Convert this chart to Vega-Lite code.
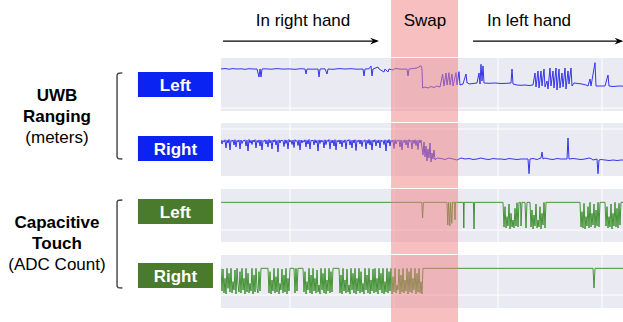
{
  "$schema": "https://vega.github.io/schema/vega-lite/v6.json",
  "padding": 0,
  "background": "white",
  "spacing": 0,
  "config": {"view": {"stroke": null}, "font": "Liberation Sans", "concat": {"spacing": 0}},
  "resolve": {"scale": {"x": "independent", "y": "independent"}},
  "datasets": {
    "uwbL": [
      {"t":0,"v":3.9},{"t":1,"v":3.95},{"t":2,"v":3.88},{"t":3,"v":3.94},{"t":4,"v":3.9},{"t":5,"v":3.92},{"t":6,"v":3.87},{"t":7,"v":3.93},{"t":8,"v":3.9},{"t":9,"v":3.9},{"t":9.5,"v":3.1},{"t":9.75,"v":3.9},{"t":10,"v":3.1},{"t":10.25,"v":3.9},{"t":11,"v":3.92},{"t":12.5,"v":3.88},{"t":14,"v":3.94},{"t":15.5,"v":3.89},{"t":17,"v":3.91},{"t":18.5,"v":3.87},{"t":20,"v":3.93},{"t":21,"v":3.9},{"t":21.25,"v":3.4},{"t":21.5,"v":3.9},{"t":23,"v":3.88},{"t":24.25,"v":3.9},{"t":24.5,"v":3.1},{"t":24.75,"v":3.9},{"t":26,"v":3.92},{"t":26.5,"v":3.4},{"t":26.75,"v":3.9},{"t":28,"v":3.87},{"t":29.5,"v":3.94},{"t":31,"v":3.9},{"t":32.5,"v":3.93},{"t":34,"v":3.88},{"t":35.5,"v":3.9},{"t":35.75,"v":3.2},{"t":36,"v":3.9},{"t":37,"v":3.92},{"t":37.5,"v":4.2},{"t":37.75,"v":3.2},{"t":38,"v":3.9},{"t":39.25,"v":4.1},{"t":39.5,"v":3.9},{"t":40.75,"v":3.6},{"t":41,"v":3.9},{"t":41.75,"v":3.6},{"t":42,"v":3.9},{"t":43,"v":3.8},{"t":43.5,"v":3.95},{"t":45,"v":3.88},{"t":46.5,"v":3.9},{"t":46.75,"v":3.2},{"t":47,"v":3.9},{"t":48,"v":3.95},{"t":49,"v":4.0},{"t":50,"v":4.23},{"t":50.25,"v":3.9},{"t":50.4,"v":2.0},{"t":51,"v":2.1},{"t":51.75,"v":2.0},{"t":52.5,"v":2.15},{"t":53.25,"v":2.05},{"t":54,"v":2.2},{"t":54.75,"v":2.1},{"t":55.4,"v":3.4},{"t":55.75,"v":2.2},{"t":56.25,"v":3.5},{"t":56.5,"v":2.3},{"t":57,"v":3.53},{"t":57.25,"v":2.3},{"t":57.75,"v":3.4},{"t":58,"v":2.2},{"t":58.75,"v":3.53},{"t":59,"v":2.3},{"t":59.5,"v":3.63},{"t":59.75,"v":2.3},{"t":60.5,"v":2.4},{"t":61.25,"v":3.4},{"t":61.5,"v":2.5},{"t":61.75,"v":2.53},{"t":62,"v":2.4},{"t":63,"v":2.45},{"t":64,"v":2.5},{"t":64.5,"v":3.5},{"t":64.75,"v":2.4},{"t":65,"v":4.37},{"t":65.25,"v":2.7},{"t":65.5,"v":4.2},{"t":65.75,"v":2.5},{"t":67,"v":2.47},{"t":68.5,"v":2.5},{"t":70,"v":2.45},{"t":71.5,"v":2.47},{"t":72.5,"v":2.5},{"t":72.75,"v":3.9},{"t":73,"v":2.4},{"t":74,"v":2.3},{"t":75,"v":2.27},{"t":76,"v":2.3},{"t":77,"v":2.25},{"t":78,"v":2.3},{"t":78.5,"v":3.5},{"t":78.75,"v":2.1},{"t":79.25,"v":3.7},{"t":79.5,"v":2.0},{"t":80,"v":3.7},{"t":80.25,"v":2.2},{"t":80.75,"v":3.9},{"t":81,"v":2.1},{"t":81.5,"v":2.7},{"t":81.75,"v":1.9},{"t":82.25,"v":4.0},{"t":82.5,"v":2.2},{"t":83,"v":3.7},{"t":83.25,"v":2.0},{"t":83.75,"v":4.0},{"t":84,"v":1.8},{"t":84.5,"v":3.9},{"t":84.75,"v":2.0},{"t":85.25,"v":3.5},{"t":85.5,"v":2.1},{"t":86,"v":4.0},{"t":86.25,"v":1.9},{"t":86.75,"v":3.7},{"t":87,"v":2.4},{"t":87.5,"v":4.0},{"t":87.75,"v":2.2},{"t":88.25,"v":2.5},{"t":89.25,"v":2.45},{"t":90.25,"v":2.4},{"t":91.25,"v":2.3},{"t":91.75,"v":2.2},{"t":92.25,"v":2.9},{"t":92.5,"v":2.2},{"t":93.5,"v":4.53},{"t":93.75,"v":2.2},{"t":95,"v":2.2},{"t":96,"v":2.2},{"t":96.75,"v":3.3},{"t":97,"v":2.2},{"t":98,"v":2.15},{"t":99.5,"v":2.2},{"t":100.75,"v":2.18}
    ],
    "uwbR": [
      {"t":0,"v":3.9},{"t":0.25,"v":3.5},{"t":0.5,"v":3.85},{"t":0.75,"v":3.7},{"t":1,"v":3.92},{"t":1.25,"v":3.1},{"t":1.5,"v":3.88},{"t":1.75,"v":3.6},{"t":2,"v":3.95},{"t":2.25,"v":2.9},{"t":2.5,"v":3.87},{"t":2.75,"v":3.75},{"t":3,"v":3.9},{"t":3.25,"v":3.4},{"t":3.5,"v":3.93},{"t":3.75,"v":3.2},{"t":4,"v":3.86},{"t":4.25,"v":3.7},{"t":4.5,"v":3.91},{"t":4.75,"v":3.0},
      {"t":5,"v":3.9},{"t":5.25,"v":3.55},{"t":5.5,"v":3.85},{"t":5.75,"v":3.8},{"t":6,"v":3.92},{"t":6.25,"v":3.3},{"t":6.5,"v":3.88},{"t":6.75,"v":2.8},{"t":7,"v":3.95},{"t":7.25,"v":3.6},{"t":7.5,"v":3.87},{"t":7.75,"v":3.45},{"t":8,"v":3.9},{"t":8.25,"v":3.7},{"t":8.5,"v":3.93},{"t":8.75,"v":3.1},{"t":9,"v":3.86},{"t":9.25,"v":3.65},{"t":9.5,"v":3.91},{"t":9.75,"v":3.3},
      {"t":10,"v":3.9},{"t":10.25,"v":2.9},{"t":10.5,"v":3.85},{"t":10.75,"v":3.75},{"t":11,"v":3.92},{"t":11.25,"v":3.5},{"t":11.5,"v":3.88},{"t":11.75,"v":3.2},{"t":12,"v":3.95},{"t":12.25,"v":3.6},{"t":12.5,"v":3.87},{"t":12.75,"v":3.0},{"t":13,"v":3.9},{"t":13.25,"v":3.7},{"t":13.5,"v":3.93},{"t":13.75,"v":3.4},{"t":14,"v":3.86},{"t":14.25,"v":2.7},{"t":14.5,"v":3.91},{"t":14.75,"v":3.6},
      {"t":15,"v":3.9},{"t":15.25,"v":3.8},{"t":15.5,"v":3.85},{"t":15.75,"v":3.25},{"t":16,"v":3.92},{"t":16.25,"v":3.55},{"t":16.5,"v":3.88},{"t":16.75,"v":3.0},{"t":17,"v":3.95},{"t":17.25,"v":3.7},{"t":17.5,"v":3.87},{"t":17.75,"v":3.45},{"t":18,"v":3.9},{"t":18.25,"v":3.15},{"t":18.5,"v":3.93},{"t":18.75,"v":3.75},{"t":19,"v":3.86},{"t":19.25,"v":3.35},{"t":19.5,"v":3.91},{"t":19.75,"v":2.9},
      {"t":20,"v":3.9},{"t":20.25,"v":3.6},{"t":20.5,"v":3.85},{"t":20.75,"v":3.7},{"t":21,"v":3.92},{"t":21.25,"v":3.2},{"t":21.5,"v":3.88},{"t":21.75,"v":3.5},{"t":22,"v":3.95},{"t":22.25,"v":3.0},{"t":22.5,"v":3.87},{"t":22.75,"v":3.8},{"t":23,"v":3.9},{"t":23.25,"v":3.4},{"t":23.5,"v":3.93},{"t":23.75,"v":3.6},{"t":24,"v":3.86},{"t":24.25,"v":2.8},{"t":24.5,"v":3.91},{"t":24.75,"v":3.55},
      {"t":25,"v":3.9},{"t":25.25,"v":3.7},{"t":25.5,"v":3.85},{"t":25.75,"v":3.1},{"t":26,"v":3.92},{"t":26.25,"v":3.45},{"t":26.5,"v":3.88},{"t":26.75,"v":3.75},{"t":27,"v":3.95},{"t":27.25,"v":3.0},{"t":27.5,"v":3.87},{"t":27.75,"v":3.6},{"t":28,"v":3.9},{"t":28.25,"v":3.3},{"t":28.5,"v":3.93},{"t":28.75,"v":2.9},{"t":29,"v":3.86},{"t":29.25,"v":3.7},{"t":29.5,"v":3.91},{"t":29.75,"v":3.5},
      {"t":30,"v":3.9},{"t":30.25,"v":3.2},{"t":30.5,"v":3.85},{"t":30.75,"v":3.65},{"t":31,"v":3.92},{"t":31.25,"v":3.0},{"t":31.5,"v":3.88},{"t":31.75,"v":3.8},{"t":32,"v":3.95},{"t":32.25,"v":3.4},{"t":32.5,"v":3.87},{"t":32.75,"v":3.1},{"t":33,"v":3.9},{"t":33.25,"v":3.6},{"t":33.5,"v":3.93},{"t":33.75,"v":2.85},{"t":34,"v":3.86},{"t":34.25,"v":3.7},{"t":34.5,"v":3.91},{"t":34.75,"v":3.5},
      {"t":35,"v":3.9},{"t":35.25,"v":3.25},{"t":35.5,"v":3.85},{"t":35.75,"v":3.75},{"t":36,"v":3.92},{"t":36.25,"v":3.0},{"t":36.5,"v":3.88},{"t":36.75,"v":3.55},{"t":37,"v":3.95},{"t":37.25,"v":3.4},{"t":37.5,"v":3.87},{"t":37.75,"v":2.9},{"t":38,"v":3.9},{"t":38.25,"v":3.7},{"t":38.5,"v":3.93},{"t":38.75,"v":3.3},{"t":39,"v":3.86},{"t":39.25,"v":3.6},{"t":39.5,"v":3.91},{"t":39.75,"v":3.1},
      {"t":40,"v":3.9},{"t":40.25,"v":3.75},{"t":40.5,"v":3.85},{"t":40.75,"v":3.45},{"t":41,"v":3.92},{"t":41.25,"v":2.8},{"t":41.5,"v":3.88},{"t":41.75,"v":3.6},{"t":42,"v":3.95},{"t":42.25,"v":3.3},{"t":42.5,"v":3.87},{"t":42.75,"v":3.7},{"t":43,"v":3.9},{"t":43.25,"v":3.05},{"t":43.5,"v":3.93},{"t":43.75,"v":3.5},{"t":44,"v":3.86},{"t":44.25,"v":3.8},{"t":44.5,"v":3.91},{"t":44.75,"v":3.2},
      {"t":45,"v":3.9},{"t":45.25,"v":2.9},{"t":45.5,"v":3.85},{"t":45.75,"v":3.65},{"t":46,"v":3.92},{"t":46.25,"v":3.4},{"t":46.5,"v":3.88},{"t":46.75,"v":3.1},{"t":47,"v":3.95},{"t":47.25,"v":3.7},{"t":47.5,"v":3.87},{"t":47.75,"v":3.0},{"t":48,"v":3.9},{"t":48.25,"v":3.55},{"t":48.5,"v":3.93},{"t":48.75,"v":3.35},{"t":49,"v":3.86},{"t":49.25,"v":2.95},{"t":49.5,"v":3.91},{"t":49.75,"v":3.6},{"t":50,"v":3.9},
      {"t":50.5,"v":2.4},{"t":50.75,"v":3.7},{"t":51,"v":2.2},{"t":51.25,"v":3.3},{"t":51.5,"v":1.8},{"t":51.75,"v":3.0},{"t":52,"v":2.1},{"t":52.25,"v":3.6},{"t":52.5,"v":1.7},{"t":52.75,"v":2.6},{"t":53,"v":2.0},{"t":53.25,"v":2.9},{"t":53.5,"v":1.9},{"t":54,"v":2.1},{"t":55,"v":2.05},{"t":56,"v":1.95},{"t":57,"v":2.1},{"t":58,"v":2.0},{"t":59,"v":1.9},{"t":60,"v":2.1},{"t":61,"v":2.0},{"t":62,"v":2.05},{"t":63,"v":1.95},{"t":64,"v":2.0},{"t":65,"v":2.1},{"t":66,"v":2.0},{"t":67,"v":1.95},{"t":68,"v":2.05},{"t":69,"v":2.0},{"t":70,"v":2.0},{"t":71,"v":1.95},{"t":72,"v":2.05},{"t":73,"v":2.0},{"t":74,"v":1.95},{"t":75,"v":2.0},{"t":76,"v":2.0},{"t":76.75,"v":2.0},{"t":77,"v":0.53},{"t":77.25,"v":2.0},{"t":78,"v":2.05},{"t":79,"v":1.95},{"t":80,"v":2.1},{"t":80.25,"v":2.7},{"t":80.5,"v":2.0},{"t":81,"v":2.1},{"t":82,"v":2.0},{"t":83,"v":1.95},{"t":84,"v":2.05},{"t":85,"v":2.0},{"t":86,"v":2.0},{"t":86.5,"v":2.0},{"t":86.75,"v":4.1},{"t":87,"v":2.0},{"t":88,"v":2.05},{"t":89,"v":2.0},{"t":90,"v":1.95},{"t":91,"v":2.0},{"t":92,"v":2.1},{"t":92.5,"v":2.05},{"t":93,"v":1.9},{"t":94,"v":2.0},{"t":94.25,"v":0.53},{"t":94.5,"v":1.9},{"t":95,"v":1.95},{"t":96,"v":1.9},{"t":97,"v":1.85},{"t":98,"v":1.9},{"t":99,"v":1.85},{"t":100,"v":1.9},{"t":100.75,"v":1.88}
    ],
    "capL": [
      {"t":0,"v":830},{"t":50.2,"v":830},{"t":50.4,"v":360},{"t":50.6,"v":830},{"t":56.5,"v":830},{"t":56.7,"v":150},{"t":56.9,"v":830},{"t":57.2,"v":120},{"t":57.4,"v":830},{"t":57.7,"v":200},{"t":57.9,"v":830},{"t":58.4,"v":830},{"t":58.5,"v":310},{"t":58.6,"v":830},{"t":60.6,"v":830},{"t":60.7,"v":60},{"t":60.8,"v":830},{"t":63.1,"v":830},{"t":63.25,"v":30},{"t":63.4,"v":830},{"t":70.5,"v":830},{"t":70.75,"v":90},{"t":71,"v":700},{"t":71.25,"v":60},{"t":71.5,"v":400},{"t":71.75,"v":120},{"t":72,"v":780},{"t":72.25,"v":30},{"t":72.5,"v":500},{"t":72.75,"v":90},{"t":73,"v":300},{"t":73.25,"v":60},{"t":73.5,"v":650},{"t":73.75,"v":120},{"t":74,"v":820},{"t":74.25,"v":90},{"t":74.5,"v":830},{"t":74.9,"v":830},{"t":75,"v":120},{"t":75.25,"v":830},{"t":76,"v":830},{"t":76.25,"v":60},{"t":76.5,"v":830},{"t":77.25,"v":830},{"t":77.5,"v":90},{"t":77.75,"v":600},{"t":78,"v":30},{"t":78.25,"v":450},{"t":78.5,"v":120},{"t":78.75,"v":780},{"t":79,"v":60},{"t":79.25,"v":300},{"t":79.5,"v":90},{"t":79.75,"v":700},{"t":80,"v":30},{"t":80.25,"v":500},{"t":80.5,"v":150},{"t":80.75,"v":830},{"t":81,"v":60},{"t":81.25,"v":830},{"t":89.75,"v":830},{"t":90,"v":90},{"t":90.25,"v":550},{"t":90.5,"v":60},{"t":90.75,"v":800},{"t":91,"v":30},{"t":91.25,"v":400},{"t":91.5,"v":120},{"t":91.75,"v":700},{"t":92,"v":60},{"t":92.25,"v":830},{"t":92.5,"v":90},{"t":92.75,"v":500},{"t":93,"v":150},{"t":93.25,"v":780},{"t":93.5,"v":60},{"t":93.75,"v":600},{"t":94,"v":120},{"t":94.25,"v":830},{"t":94.5,"v":90},{"t":94.75,"v":830},{"t":96,"v":830},{"t":96.25,"v":120},{"t":96.5,"v":700},{"t":96.75,"v":60},{"t":97,"v":400},{"t":97.25,"v":90},{"t":97.5,"v":780},{"t":97.75,"v":30},{"t":98,"v":500},{"t":98.25,"v":120},{"t":98.5,"v":830},{"t":98.75,"v":90},{"t":99,"v":650},{"t":99.25,"v":60},{"t":99.5,"v":800},{"t":99.75,"v":150},{"t":100,"v":830},{"t":100.75,"v":830}
    ],
    "capR": [
      {"t":0,"v":800},{"t":0.25,"v":120},{"t":0.5,"v":780},{"t":0.75,"v":60},{"t":1,"v":500},{"t":1.25,"v":30},{"t":1.5,"v":800},{"t":1.75,"v":200},{"t":2,"v":650},{"t":2.25,"v":90},{"t":2.5,"v":800},{"t":2.75,"v":60},{"t":3,"v":400},{"t":3.25,"v":150},{"t":3.5,"v":750},{"t":3.75,"v":30},{"t":4,"v":800},{"t":4.25,"v":300},{"t":4.5,"v":90},{"t":4.75,"v":700},{"t":5,"v":60},{"t":5.25,"v":800},{"t":5.5,"v":150},{"t":5.75,"v":500},{"t":6,"v":30},{"t":6.25,"v":800},{"t":6.5,"v":90},{"t":6.75,"v":650},{"t":7,"v":60},{"t":7.25,"v":350},{"t":7.5,"v":120},{"t":7.75,"v":800},{"t":8,"v":30},{"t":8.25,"v":600},{"t":8.5,"v":90},{"t":8.75,"v":800},{"t":9,"v":200},{"t":9.25,"v":60},{"t":9.5,"v":700},{"t":9.75,"v":120},{"t":10,"v":800},{"t":11.75,"v":800},{"t":12,"v":60},{"t":12.25,"v":700},{"t":12.5,"v":30},{"t":12.75,"v":450},{"t":13,"v":120},{"t":13.25,"v":800},{"t":13.5,"v":60},{"t":13.75,"v":550},{"t":14,"v":90},{"t":14.25,"v":800},{"t":14.5,"v":30},{"t":14.75,"v":350},{"t":15,"v":150},{"t":15.25,"v":780},{"t":15.5,"v":60},{"t":15.75,"v":600},{"t":16,"v":90},{"t":16.25,"v":800},{"t":16.5,"v":30},{"t":16.75,"v":500},{"t":17,"v":120},{"t":17.25,"v":800},{"t":18.25,"v":800},{"t":18.5,"v":60},{"t":18.75,"v":800},{"t":19,"v":120},{"t":19.25,"v":800},{"t":20.5,"v":800},{"t":20.75,"v":90},{"t":21,"v":700},{"t":21.25,"v":30},{"t":21.5,"v":400},{"t":21.75,"v":150},{"t":22,"v":800},{"t":22.25,"v":60},{"t":22.5,"v":600},{"t":22.75,"v":30},{"t":23,"v":800},{"t":23.25,"v":120},{"t":23.5,"v":500},{"t":23.75,"v":60},{"t":24,"v":750},{"t":24.25,"v":90},{"t":24.5,"v":300},{"t":24.75,"v":30},{"t":25,"v":800},{"t":25.25,"v":150},{"t":25.5,"v":650},{"t":25.75,"v":60},{"t":26,"v":800},{"t":26.25,"v":30},{"t":26.5,"v":450},{"t":26.75,"v":120},{"t":27,"v":800},{"t":27.25,"v":60},{"t":27.5,"v":700},{"t":27.75,"v":90},{"t":28,"v":800},{"t":29.5,"v":800},{"t":29.75,"v":60},{"t":30,"v":600},{"t":30.25,"v":30},{"t":30.5,"v":800},{"t":30.75,"v":120},{"t":31,"v":450},{"t":31.25,"v":60},{"t":31.5,"v":780},{"t":31.75,"v":90},{"t":32,"v":300},{"t":32.25,"v":30},{"t":32.5,"v":800},{"t":32.75,"v":150},{"t":33,"v":650},{"t":33.25,"v":60},{"t":33.5,"v":800},{"t":33.75,"v":30},{"t":34,"v":500},{"t":34.25,"v":120},{"t":34.5,"v":800},{"t":34.75,"v":60},{"t":35,"v":700},{"t":35.25,"v":90},{"t":35.5,"v":350},{"t":35.75,"v":30},{"t":36,"v":800},{"t":36.25,"v":150},{"t":36.5,"v":600},{"t":36.75,"v":60},{"t":37,"v":800},{"t":37.25,"v":30},{"t":37.5,"v":450},{"t":37.75,"v":120},{"t":38,"v":780},{"t":38.25,"v":60},{"t":38.5,"v":800},{"t":38.75,"v":90},{"t":39,"v":500},{"t":39.25,"v":30},{"t":39.5,"v":800},{"t":39.75,"v":150},{"t":40,"v":650},{"t":40.25,"v":60},{"t":40.5,"v":800},{"t":40.75,"v":30},{"t":41,"v":400},{"t":41.25,"v":90},{"t":41.5,"v":800},{"t":41.75,"v":60},{"t":42,"v":700},{"t":42.25,"v":120},{"t":42.5,"v":800},{"t":42.75,"v":30},{"t":43,"v":550},{"t":43.25,"v":90},{"t":43.5,"v":800},{"t":43.75,"v":60},{"t":44,"v":300},{"t":44.25,"v":150},{"t":44.5,"v":780},{"t":44.75,"v":30},{"t":45,"v":600},{"t":45.25,"v":90},{"t":45.5,"v":800},{"t":45.75,"v":60},{"t":46,"v":450},{"t":46.25,"v":120},{"t":46.5,"v":800},{"t":46.75,"v":30},{"t":47,"v":700},{"t":47.25,"v":90},{"t":47.5,"v":800},{"t":47.75,"v":60},{"t":48,"v":500},{"t":48.25,"v":150},{"t":48.5,"v":800},{"t":48.75,"v":30},{"t":49,"v":650},{"t":49.25,"v":90},{"t":49.5,"v":800},{"t":49.75,"v":60},{"t":50,"v":400},{"t":50.25,"v":30},{"t":50.5,"v":800},{"t":93,"v":800},{"t":93.25,"v":210},{"t":93.5,"v":800},{"t":100.75,"v":800}
    ],
    "swap": [{"start": 42.5, "end": 59.25}],
    "vgrid": [{"t": 17.25}, {"t": 43.25}, {"t": 69.25}, {"t": 95.25}],
    "panels": [
      {"panel": "uwbL", "lo": -0.3, "hi": 5.0, "grid": 0},
      {"panel": "uwbR", "lo": 0.3, "hi": 5.6, "grid": 5},
      {"panel": "capL", "lo": -360, "hi": 1230, "grid": 0},
      {"panel": "capR", "lo": -390, "hi": 1200, "grid": 0}
    ],
    "phases": [
      {"label": "In right hand", "t": 20.5, "level": 0.54},
      {"label": "Swap", "t": 51, "level": 0.54},
      {"label": "In left hand", "t": 77, "level": 0.54}
    ],
    "arrows": [
      {"t": 0.5, "t2": 39.0, "tip": 39.5, "level": 0.28},
      {"t": 63, "t2": 100.1, "tip": 100.6, "level": 0.28}
    ],
    "boxes": [
      {"sensor": "UWB", "side": "Left", "left": 0.627, "right": 0.968, "top": 0.805, "bottom": 1.195, "center": 0.7975, "base": 1.095},
      {"sensor": "UWB", "side": "Right", "left": 0.627, "right": 0.968, "top": 1.805, "bottom": 2.195, "center": 0.7975, "base": 2.095},
      {"sensor": "Capacitive", "side": "Left", "left": 0.627, "right": 0.968, "top": 2.79, "bottom": 3.18, "center": 0.7975, "base": 3.08},
      {"sensor": "Capacitive", "side": "Right", "left": 0.627, "right": 0.968, "top": 3.79, "bottom": 4.18, "center": 0.7975, "base": 4.08}
    ],
    "brackets": [
      {"group": "UWB", "order": 1, "col": 0.556, "track": 0.82},
      {"group": "UWB", "order": 2, "col": 0.537, "track": 0.825},
      {"group": "UWB", "order": 3, "col": 0.532, "track": 0.85},
      {"group": "UWB", "order": 4, "col": 0.532, "track": 2.135},
      {"group": "UWB", "order": 5, "col": 0.537, "track": 2.16},
      {"group": "UWB", "order": 6, "col": 0.556, "track": 2.164},
      {"group": "Cap", "order": 1, "col": 0.556, "track": 2.805},
      {"group": "Cap", "order": 2, "col": 0.537, "track": 2.81},
      {"group": "Cap", "order": 3, "col": 0.532, "track": 2.835},
      {"group": "Cap", "order": 4, "col": 0.532, "track": 4.15},
      {"group": "Cap", "order": 5, "col": 0.537, "track": 4.175},
      {"group": "Cap", "order": 6, "col": 0.556, "track": 4.18}
    ],
    "groups": [
      {"text": "UWB", "col": 0.259, "track": 1.258, "style": "bold"},
      {"text": "Ranging", "col": 0.259, "track": 1.586, "style": "bold"},
      {"text": "(meters)", "col": 0.259, "track": 1.914, "style": "normal"},
      {"text": "Capacitive", "col": 0.259, "track": 3.242, "style": "bold"},
      {"text": "Touch", "col": 0.259, "track": 3.570, "style": "bold"},
      {"text": "(ADC Count)", "col": 0.259, "track": 3.898, "style": "normal"}
    ]
  },
  "hconcat": [
    {
      "width": 220,
      "height": 322,
      "layer": [
        {
          "data": {"name": "brackets"},
          "mark": {"type": "line", "color": "#333333", "strokeWidth": 1.3},
          "encoding": {
            "x": {"field": "col", "type": "quantitative", "scale": {"domain": [0, 1], "nice": false, "zero": false}, "axis": null},
            "y": {"field": "track", "type": "quantitative", "scale": {"domain": [-0.32, 4.711], "nice": false, "zero": false, "reverse": true}, "axis": null},
            "detail": {"field": "group"},
            "order": {"field": "order", "type": "quantitative"}
          }
        },
        {
          "data": {"name": "boxes"},
          "mark": {"type": "rect"},
          "encoding": {
            "x": {"field": "left", "type": "quantitative", "scale": {"domain": [0, 1], "nice": false, "zero": false}, "axis": null},
            "x2": {"field": "right"},
            "y": {"field": "top", "type": "quantitative", "scale": {"domain": [-0.32, 4.711], "nice": false, "zero": false, "reverse": true}, "axis": null},
            "y2": {"field": "bottom"},
            "color": {"field": "sensor", "type": "nominal", "scale": {"domain": ["UWB", "Capacitive"], "range": ["#0a22f2", "#4a7a2b"]}, "legend": null}
          }
        },
        {
          "data": {"name": "boxes"},
          "mark": {"type": "text", "color": "white", "fontWeight": "bold", "fontSize": 17, "align": "center", "baseline": "alphabetic", "font": "Liberation Sans"},
          "encoding": {
            "x": {"field": "center", "type": "quantitative", "scale": {"domain": [0, 1], "nice": false, "zero": false}, "axis": null},
            "y": {"field": "base", "type": "quantitative", "scale": {"domain": [-0.32, 4.711], "nice": false, "zero": false, "reverse": true}, "axis": null},
            "text": {"field": "side"}
          }
        },
        {
          "data": {"name": "groups"},
          "transform": [{"filter": "datum.style === 'bold'"}],
          "mark": {"type": "text", "color": "black", "fontWeight": "bold", "fontSize": 17, "align": "center", "baseline": "alphabetic", "font": "Liberation Sans"},
          "encoding": {
            "x": {"field": "col", "type": "quantitative", "scale": {"domain": [0, 1], "nice": false, "zero": false}, "axis": null},
            "y": {"field": "track", "type": "quantitative", "scale": {"domain": [-0.32, 4.711], "nice": false, "zero": false, "reverse": true}, "axis": null},
            "text": {"field": "text"}
          }
        },
        {
          "data": {"name": "groups"},
          "transform": [{"filter": "datum.style === 'normal'"}],
          "mark": {"type": "text", "color": "black", "fontSize": 17, "align": "center", "baseline": "alphabetic", "font": "Liberation Sans"},
          "encoding": {
            "x": {"field": "col", "type": "quantitative", "scale": {"domain": [0, 1], "nice": false, "zero": false}, "axis": null},
            "y": {"field": "track", "type": "quantitative", "scale": {"domain": [-0.32, 4.711], "nice": false, "zero": false, "reverse": true}, "axis": null},
            "text": {"field": "text"}
          }
        }
      ]
    },
    {
      "vconcat": [
        {
          "width": 403,
          "height": 57,
          "layer": [
            {
              "data": {"name": "swap"},
              "mark": {"type": "rect", "color": "#f08080", "opacity": 0.5},
              "encoding": {
                "x": {"field": "start", "type": "quantitative", "scale": {"domain": [0, 100.75], "nice": false, "zero": false}, "axis": null},
                "x2": {"field": "end"}
              }
            },
            {
              "data": {"name": "arrows"},
              "mark": {"type": "rule", "color": "black", "strokeWidth": 1.3},
              "encoding": {
                "x": {"field": "t", "type": "quantitative", "scale": {"domain": [0, 100.75], "nice": false, "zero": false}, "axis": null},
                "x2": {"field": "t2"},
                "y": {"field": "level", "type": "quantitative", "scale": {"domain": [0, 1], "nice": false, "zero": false}, "axis": null}
              }
            },
            {
              "data": {"name": "arrows"},
              "mark": {"type": "point", "shape": "M0,0L-2.2,-0.85L-1.5,0L-2.2,0.85Z", "filled": true, "color": "black", "opacity": 1, "size": 64, "strokeWidth": 0},
              "encoding": {
                "x": {"field": "tip", "type": "quantitative", "scale": {"domain": [0, 100.75], "nice": false, "zero": false}, "axis": null},
                "y": {"field": "level", "type": "quantitative", "scale": {"domain": [0, 1], "nice": false, "zero": false}, "axis": null}
              }
            },
            {
              "data": {"name": "phases"},
              "mark": {"type": "text", "color": "black", "fontSize": 17, "align": "center", "baseline": "alphabetic", "font": "Liberation Sans"},
              "encoding": {
                "x": {"field": "t", "type": "quantitative", "scale": {"domain": [0, 100.75], "nice": false, "zero": false}, "axis": null},
                "y": {"field": "level", "type": "quantitative", "scale": {"domain": [0, 1], "nice": false, "zero": false}, "axis": null},
                "text": {"field": "label"}
              }
            }
          ]
        },
        {
          "width": 403,
          "height": 64,
          "layer": [
            {
              "data": {"name": "panels"},
              "transform": [{"filter": "datum.panel === 'uwbL'"}],
              "mark": {"type": "rect", "color": "#EAEAF2"},
              "encoding": {
                "y": {"field": "lo", "type": "quantitative", "scale": {"domain": [-1.4, 5.0], "nice": false, "zero": false}, "axis": null},
                "y2": {"field": "hi"}
              }
            },
            {
              "data": {"name": "panels"},
              "transform": [{"filter": "datum.panel === 'uwbL'"}],
              "mark": {"type": "rule", "color": "white", "strokeWidth": 1},
              "encoding": {
                "y": {"field": "grid", "type": "quantitative", "scale": {"domain": [-1.4, 5.0], "nice": false, "zero": false}, "axis": null}
              }
            },
            {
              "data": {"name": "vgrid"},
              "mark": {"type": "rule", "color": "white", "strokeWidth": 1},
              "encoding": {
                "x": {"field": "t", "type": "quantitative", "scale": {"domain": [0, 100.75], "nice": false, "zero": false}, "axis": null},
                "y": {"datum": -0.3, "type": "quantitative", "scale": {"domain": [-1.4, 5.0], "nice": false, "zero": false}, "axis": null},
                "y2": {"datum": 5.0}
              }
            },
            {
              "data": {"name": "uwbL"},
              "mark": {"type": "line", "color": "#3535e8", "strokeWidth": 1, "clip": true},
              "encoding": {
                "x": {"field": "t", "type": "quantitative", "scale": {"domain": [0, 100.75], "nice": false, "zero": false}, "axis": null},
                "y": {"field": "v", "type": "quantitative", "scale": {"domain": [-1.4, 5.0], "nice": false, "zero": false}, "axis": null}
              }
            },
            {
              "data": {"name": "swap"},
              "mark": {"type": "rect", "color": "#f08080", "opacity": 0.5},
              "encoding": {
                "x": {"field": "start", "type": "quantitative", "scale": {"domain": [0, 100.75], "nice": false, "zero": false}, "axis": null},
                "x2": {"field": "end"}
              }
            }
          ]
        },
        {
          "width": 403,
          "height": 65,
          "layer": [
            {
              "data": {"name": "panels"},
              "transform": [{"filter": "datum.panel === 'uwbR'"}],
              "mark": {"type": "rect", "color": "#EAEAF2"},
              "encoding": {
                "y": {"field": "lo", "type": "quantitative", "scale": {"domain": [-0.9, 5.6], "nice": false, "zero": false}, "axis": null},
                "y2": {"field": "hi"}
              }
            },
            {
              "data": {"name": "panels"},
              "transform": [{"filter": "datum.panel === 'uwbR'"}],
              "mark": {"type": "rule", "color": "white", "strokeWidth": 1},
              "encoding": {
                "y": {"field": "grid", "type": "quantitative", "scale": {"domain": [-0.9, 5.6], "nice": false, "zero": false}, "axis": null}
              }
            },
            {
              "data": {"name": "vgrid"},
              "mark": {"type": "rule", "color": "white", "strokeWidth": 1},
              "encoding": {
                "x": {"field": "t", "type": "quantitative", "scale": {"domain": [0, 100.75], "nice": false, "zero": false}, "axis": null},
                "y": {"datum": 0.3, "type": "quantitative", "scale": {"domain": [-0.9, 5.6], "nice": false, "zero": false}, "axis": null},
                "y2": {"datum": 5.6}
              }
            },
            {
              "data": {"name": "uwbR"},
              "mark": {"type": "line", "color": "#3535e8", "strokeWidth": 1, "clip": true},
              "encoding": {
                "x": {"field": "t", "type": "quantitative", "scale": {"domain": [0, 100.75], "nice": false, "zero": false}, "axis": null},
                "y": {"field": "v", "type": "quantitative", "scale": {"domain": [-0.9, 5.6], "nice": false, "zero": false}, "axis": null}
              }
            },
            {
              "data": {"name": "swap"},
              "mark": {"type": "rect", "color": "#f08080", "opacity": 0.5},
              "encoding": {
                "x": {"field": "start", "type": "quantitative", "scale": {"domain": [0, 100.75], "nice": false, "zero": false}, "axis": null},
                "x2": {"field": "end"}
              }
            }
          ]
        },
        {
          "width": 403,
          "height": 65,
          "layer": [
            {
              "data": {"name": "panels"},
              "transform": [{"filter": "datum.panel === 'capL'"}],
              "mark": {"type": "rect", "color": "#EAEAF2"},
              "encoding": {
                "y": {"field": "lo", "type": "quantitative", "scale": {"domain": [-720, 1230], "nice": false, "zero": false}, "axis": null},
                "y2": {"field": "hi"}
              }
            },
            {
              "data": {"name": "panels"},
              "transform": [{"filter": "datum.panel === 'capL'"}],
              "mark": {"type": "rule", "color": "white", "strokeWidth": 1},
              "encoding": {
                "y": {"field": "grid", "type": "quantitative", "scale": {"domain": [-720, 1230], "nice": false, "zero": false}, "axis": null}
              }
            },
            {
              "data": {"name": "vgrid"},
              "mark": {"type": "rule", "color": "white", "strokeWidth": 1},
              "encoding": {
                "x": {"field": "t", "type": "quantitative", "scale": {"domain": [0, 100.75], "nice": false, "zero": false}, "axis": null},
                "y": {"datum": -360, "type": "quantitative", "scale": {"domain": [-720, 1230], "nice": false, "zero": false}, "axis": null},
                "y2": {"datum": 1230}
              }
            },
            {
              "data": {"name": "capL"},
              "mark": {"type": "line", "color": "#2a8519", "strokeWidth": 1, "opacity": 0.85, "clip": true},
              "encoding": {
                "x": {"field": "t", "type": "quantitative", "scale": {"domain": [0, 100.75], "nice": false, "zero": false}, "axis": null},
                "y": {"field": "v", "type": "quantitative", "scale": {"domain": [-720, 1230], "nice": false, "zero": false}, "axis": null}
              }
            },
            {
              "data": {"name": "swap"},
              "mark": {"type": "rect", "color": "#f08080", "opacity": 0.5},
              "encoding": {
                "x": {"field": "start", "type": "quantitative", "scale": {"domain": [0, 100.75], "nice": false, "zero": false}, "axis": null},
                "x2": {"field": "end"}
              }
            }
          ]
        },
        {
          "width": 403,
          "height": 71,
          "layer": [
            {
              "data": {"name": "panels"},
              "transform": [{"filter": "datum.panel === 'capR'"}],
              "mark": {"type": "rect", "color": "#EAEAF2"},
              "encoding": {
                "y": {"field": "lo", "type": "quantitative", "scale": {"domain": [-930, 1200], "nice": false, "zero": false}, "axis": null},
                "y2": {"field": "hi"}
              }
            },
            {
              "data": {"name": "panels"},
              "transform": [{"filter": "datum.panel === 'capR'"}],
              "mark": {"type": "rule", "color": "white", "strokeWidth": 1},
              "encoding": {
                "y": {"field": "grid", "type": "quantitative", "scale": {"domain": [-930, 1200], "nice": false, "zero": false}, "axis": null}
              }
            },
            {
              "data": {"name": "vgrid"},
              "mark": {"type": "rule", "color": "white", "strokeWidth": 1},
              "encoding": {
                "x": {"field": "t", "type": "quantitative", "scale": {"domain": [0, 100.75], "nice": false, "zero": false}, "axis": null},
                "y": {"datum": -390, "type": "quantitative", "scale": {"domain": [-930, 1200], "nice": false, "zero": false}, "axis": null},
                "y2": {"datum": 1200}
              }
            },
            {
              "data": {"name": "capR"},
              "mark": {"type": "line", "color": "#2a8519", "strokeWidth": 1, "opacity": 0.85, "clip": true},
              "encoding": {
                "x": {"field": "t", "type": "quantitative", "scale": {"domain": [0, 100.75], "nice": false, "zero": false}, "axis": null},
                "y": {"field": "v", "type": "quantitative", "scale": {"domain": [-930, 1200], "nice": false, "zero": false}, "axis": null}
              }
            },
            {
              "data": {"name": "swap"},
              "mark": {"type": "rect", "color": "#f08080", "opacity": 0.5},
              "encoding": {
                "x": {"field": "start", "type": "quantitative", "scale": {"domain": [0, 100.75], "nice": false, "zero": false}, "axis": null},
                "x2": {"field": "end"}
              }
            }
          ]
        }
      ],
      "spacing": 0,
      "resolve": {"scale": {"x": "independent", "y": "independent"}}
    }
  ]
}
